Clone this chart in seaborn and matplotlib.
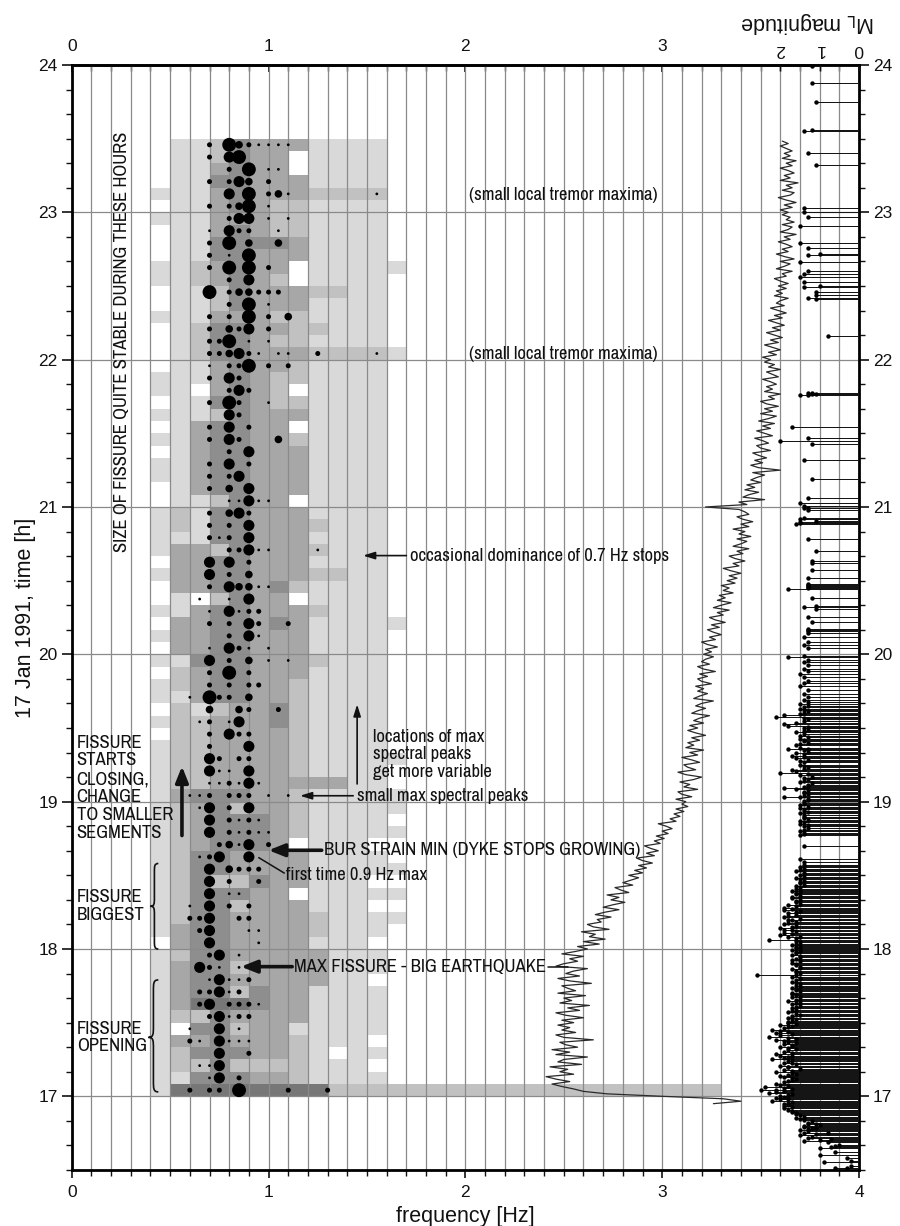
import numpy as np
import matplotlib
matplotlib.use("Agg")
import matplotlib.pyplot as plt
import seaborn as sns
from matplotlib import font_manager
from matplotlib.colors import ListedColormap, BoundaryNorm
from matplotlib.path import Path
from matplotlib.patches import PathPatch

# ---------------------------------------------------------------------------
# Spectral shading: one row per 5-minute window (23:30 down to 17:00),
# one character per 0.1 Hz bin starting at 0.4 Hz; 0 = empty, 5 = darkest.
# ---------------------------------------------------------------------------
shade_first_hz = 0.4
shade_bin_hz = 0.1
window_top_h = 23.5
window_step_h = 1 / 12
shade_rows = [
    "0112433311110", "0112433011110", "0113433011110", "0114433311110",
    "1113433322220", "0113432211110", "1113332211110", "0113432211110",
    "0114444311110", "0114433311110", "1123433011111", "1123432011110",
    "0112433322110", "0112433311110", "1113332211110", "0124433221110",
    "0124432211110", "0124433322221", "0113433211110", "1113432211110",
    "1103432011110", "0114432211110", "1112433311110", "0134433011110",
    "1134433211110", "0134433311110", "1134433311110", "1134433311110",
    "0134433311110", "0112433011110", "1214433311110", "1214433321110",
    "1114433311110", "1332433321110", "0334433311110", "1334433322110",
    "0334434211110", "0102433011110", "1134433321110", "0334434311111",
    "1334433311110", "0334433311110", "1144433321110", "0234433311110",
    "1234433211110", "1134433211110", "0212334211110", "1223334211110",
    "0223333211110", "1223333211110", "1223333211111", "1223333211110",
    "1223333333110", "1344433211111", "1234233211111", "1234443211110",
    "1234443211111", "1234443011100", "1244333311110", "1244333311111",
    "1242243311100", "1244433011111", "1244233311100", "1244333321111",
    "1344333321110", "0344333311100", "1244333331110", "1344233331110",
    "1344333331100", "1344243311110", "1355543311110", "1224333311110",
    "1044233111110", "1334333211100", "1244433210110", "1224222211100",
    "1144433211110", "1555555552222",
]
# the first window after 17:00 stays shaded out to 3.3 Hz
onset_tail_end_hz = 3.3
onset_tail_level = 2

# Maximum spectral peaks per 5-minute window: "freq(1/100 Hz):size class"
peak_rows = [
    "70:2 80:5 85:3 90:2 95:1 100:1 105:1 110:1",
    "70:2 80:4 85:5",
    "80:2 90:5 100:1 105:1",
    "70:2 80:2 85:4 90:3 100:2",
    "80:4 90:5 100:2 105:3 110:1 155:1",
    "70:2 80:2 85:3 90:5 100:1",
    "80:2 85:4 90:4 100:1 110:1",
    "70:1 80:4 85:2 90:2 105:1",
    "70:2 80:5 90:3 105:3",
    "70:2 80:1 90:5",
    "70:2 80:5 90:5 100:2",
    "80:2 90:4",
    "70:5 80:2 85:3 90:3 95:2 100:2 105:2",
    "80:2 90:5 100:1",
    "70:2 80:2 90:5 100:2 110:3",
    "70:2 80:3 85:2 90:4 100:2",
    "70:2 75:2 80:5 90:1 100:1",
    "70:2 75:2 80:3 85:4 90:2 95:1 105:1 110:1 125:2 155:1",
    "70:1 80:2 85:2 90:5 100:2 110:2",
    "70:2 80:4 85:2",
    "80:2 85:4 90:2",
    "70:2 80:5 85:2 100:1",
    "80:4 85:2",
    "70:2 80:4 90:2",
    "70:2 80:4 85:2 105:3",
    "80:2 90:4",
    "70:2 80:4 90:2",
    "70:2 80:2 85:4",
    "70:2 80:3 90:4",
    "80:1 85:1 90:4 95:1 100:1",
    "70:2 80:3 85:4 90:2",
    "70:2 80:2 90:4",
    "70:2 75:1 80:2 90:4",
    "80:2 85:2 90:4 95:1 100:1 125:1",
    "70:4 80:4 90:2",
    "70:4 80:2 90:3",
    "70:2 80:4 85:3 90:3 95:1 100:1",
    "65:1 80:1 90:4",
    "70:1 80:4 85:1 90:2 95:2",
    "70:2 80:2 90:4 95:2 110:2",
    "80:2 90:4 95:1",
    "70:1 80:4 85:2 90:1 100:1",
    "70:4 80:2 90:3 100:1 110:1",
    "70:2 80:5 90:2",
    "70:2 80:2 90:2 95:2",
    "60:1 70:5 75:2 80:2 90:3",
    "70:3 85:3 90:2 105:2",
    "65:1 70:2 80:1 85:4",
    "70:2 80:4 85:2 90:2",
    "70:2 90:4",
    "70:4 75:2 85:2 90:2",
    "70:4 75:1 80:1 90:4",
    "70:1 75:1 80:2 85:1 90:4 95:1",
    "60:1 65:1 70:2 80:2 85:2 90:2 100:1 110:1",
    "65:1 70:4 80:2 90:4",
    "70:4 80:2 85:1 90:2 95:1",
    "70:4 80:2 85:1 90:2 95:1 100:1",
    "75:2 80:3 85:1 90:4 100:2",
    "65:1 70:2 75:4 90:4",
    "70:4 80:3 85:2 90:2 95:2",
    "70:4 80:2 95:2",
    "70:4 80:1 85:1",
    "60:1 70:4 80:2 90:2",
    "60:2 65:2 70:4 85:2 90:2",
    "65:2 70:4 90:1 95:1",
    "70:4 95:1",
    "70:2 75:4 85:1",
    "65:4 70:2 75:1 85:1",
    "70:1 75:4 80:1 85:1 90:2",
    "65:2 70:2 75:4 80:1 85:2",
    "65:2 70:4 80:2 85:2 90:2 95:1",
    "70:2 75:4 80:1 85:2 90:2",
    "60:1 75:4 85:1",
    "60:2 65:1 75:4 80:1 85:1 90:1",
    "75:4 90:2",
    "65:1 70:1 75:4",
    "70:1 75:4 85:2",
    "60:2 70:2 75:2 85:5 110:2 130:2",
]
peak_marker_area = {1: 4, 2: 13, 3: 30, 4: 64, 5: 100}

# Tremor amplitude trace, 1-minute samples from 16:57 (values in 1/100 Hz units)
tremor_start_h = 16.95
tremor_step_h = 1 / 60
tremor_blocks = [
    "326 340 331 300 272 260 255",
    "249 244 253 246 241 255 248 252 243 259 247 250 262 246 253 244 257 251 248 265 250 246 256 249 253 247",
    "255 249 260 251 246 258 252 263 248 254 250 261 247 256 252 249 264 253 247 258 251 255 262 246 250 257 253 260 249 256",
    "262 257 268 260 271 263 266 259 273 265 262 269 267 274 266 271 278 270 275 281 274 278 272 283 279 276 285 280 284 288",
    "283 290 286 292 288 295 290 287 296 292 298 294 291 299 296 301 297 303 300 305 302 298 307 304 309 306 311 307 313 310",
    "312 307 315 310 308 318 311 314 309 316 320 312 308 317 313 311 319 315 310 318 314 321 312 316 313 319 315 322 317 313",
    "318 314 321 316 319 324 315 318 322 317 320 326 316 319 323 318 321 317 325 320 318 323 319 327 321 318 324 320 322 326",
    "321 325 322 328 323 320 327 324 330 326 323 329 325 332 327 324 331 328 334 326 330 335 328 332 329 336 331 334 330 337",
    "333 338 334 340 335 331 339 336 342 337 334 341 338 344 336 340 343 338 345 339 342 336 344 340 346 341 338 344 342 339",
    "322 343 339 352 341 344 349 342 347 343 350 345 348 352 346 360 349 345 351 347 353 349 346 355 350 348 354 351 347 356",
    "352 348 355 351 357 349 354 358 350 356 352 359 353 350 357 354 360 352 356 353 358 355 351 359 356 353 360 354 357 352",
    "355 351 358 354 360 356 352 359 355 361 357 353 360 356 362 358 354 361 357 363 359 355 362 358 360 364 357 361 358 363",
    "359 364 360 357 363 361 366 358 362 365 360 367 362 358 364 361 366 363 359 365 362 368 360 364 366 361 367 363 365 361",
    "364 360 366 362 368 363 359 365 367 361 366 363 369 360 365 362 367 364 360 366 363 368 361 365 362 366 363 360 364 361",
]

# Earthquakes: "minute:ML x10" per hour
quakes_by_hour = {
    16: "30.6:6 30.9:3 31.8:2 33.4:9 33.8:2 34.8:3 36.0:10 37.5:6 39.0:10 39.3:7 "
        "39.6:6 40.2:5 41.2:8 42.0:14 42.4:10 42.8:7 43.2:13 43.6:12 44.4:15 44.8:11 "
        "45.0:14 45.2:8 45.7:13 46.2:15 46.6:13 46.9:12 47.0:11 47.5:14 48.0:14 "
        "48.4:10 48.6:13 48.8:11 49.3:13 49.8:12 50.3:14 50.7:15 51.0:16 51.6:14 "
        "52.2:15 52.6:16 53.0:16 53.8:17 54.2:17 54.6:18 55.2:19 55.8:17 56.0:19 "
        "56.4:18 57.0:19 57.3:18 57.6:17 58.2:22 58.7:18 59.1:20 59.4:21 59.8:19",
    17: "0.2:20 0.55:18 0.9:17 1.3:23 1.7:21 2.0:19 2.4:25 2.6:21 3.1:17 3.5:19 "
        "3.9:24 4.4:18 4.8:20 5.2:21 5.8:19 6.2:18 6.5:17 7.1:16 7.5:17 7.9:19 "
        "8.3:20 8.6:18 9.2:16 9.6:17 9.9:21 10.5:17 10.8:19 11.0:15 11.8:18 12.1:18 "
        "12.4:20 13.1:16 13.4:17 13.7:19 14.2:18 14.6:17 15.2:22 15.6:19 16.0:18 "
        "16.3:20 16.6:17 17.3:21 17.7:17 18.0:19 18.7:18 19.2:16 19.6:18 20.0:20 "
        "20.4:17 20.8:17 21.4:19 21.8:16 22.1:18 22.5:19 22.9:21 23.5:16 23.9:18 "
        "24.2:23 24.9:20 25.3:17 25.6:21 26.3:18 26.7:20 27.0:22 27.8:19 28.1:18 "
        "28.5:17 29.1:20 29.5:16 29.8:18 30.2:18 30.6:17 31.4:16 31.8:17 32.0:18 "
        "32.8:17 33.2:15 33.5:16 34.3:18 34.7:17 35.0:16 35.9:17 36.2:16 36.6:15 "
        "37.4:17 37.8:15 38.1:16 38.9:18 39.3:16 39.6:15 40.4:17 40.8:15 41.2:16 "
        "41.6:17 42.0:17 42.7:15 43.1:16 43.5:16 44.3:17 44.7:15 45.0:16 45.8:15 "
        "46.2:16 46.5:17 47.3:16 47.7:15 48.1:15 48.6:17 49.2:26 49.6:16 50.4:15 "
        "50.8:16 51.2:16 52.0:17 52.4:15 52.8:15 53.6:16 54.0:16 54.4:17 55.2:15 "
        "55.6:17 56.0:16 56.8:15 57.1:15 57.5:17 58.3:16 58.7:16 59.1:15 59.6:17",
    18: "0.0:15 0.35:16 0.7:16 1.4:15 1.8:17 2.1:16 2.8:15 3.2:16 3.6:23 4.3:16 "
        "4.7:18 5.0:15 5.8:20 6.1:17 6.5:19 7.2:16 7.6:19 7.9:17 8.6:20 9.0:17 "
        "9.4:16 10.1:19 10.5:18 10.8:16 11.6:18 11.9:17 12.3:15 13.1:19 13.5:18 "
        "13.8:16 14.6:18 14.9:16 15.3:15 16.0:19 16.4:17 16.8:19 17.5:16 17.9:18 "
        "18.3:15 19.0:16 19.4:16 19.8:15 20.6:17 21.0:17 21.4:15 22.2:16 22.6:16 "
        "23.0:15 23.8:17 24.2:15 24.6:16 25.4:15 25.8:16 26.2:14 27.0:15 27.4:15 "
        "27.8:14 28.6:15 29.0:16 29.4:14 30.2:15 30.6:14 31.0:14 31.8:16 32.2:15 "
        "32.6:14 33.4:15 33.8:14 34.4:14 35.6:14 36.5:15 42.0:14 46.6:15 47.0:14 "
        "47.4:14 48.2:15 48.6:14 49.1:13 50.0:14 50.4:13 50.8:15 51.7:14 52.1:15 "
        "52.6:13 53.5:14 53.9:14 54.4:14 55.3:15 55.7:13 56.2:14 57.0:14 57.4:15 "
        "57.9:13 58.8:15 59.2:14 59.6:14",
    19: "0.3:14 0.7:13 1.0:13 1.7:19 2.0:15 2.4:14 3.1:13 3.5:14 3.9:14 4.6:13 "
        "5.0:16 5.4:19 6.1:14 6.5:13 6.9:13 7.7:12 8.1:15 8.5:14 9.3:13 9.7:14 "
        "10.1:12 11.0:15 11.4:13 11.8:20 12.6:16 13.0:17 13.4:14 14.2:13 14.6:14 "
        "15.1:15 16.0:14 16.4:15 16.8:13 17.6:16 18.0:14 18.4:17 19.3:14 19.7:16 "
        "20.2:13 21.1:14 21.4:13 21.6:18 22.0:15 22.9:16 23.3:15 23.8:13 24.7:14 "
        "25.1:14 25.6:15 26.5:13 26.9:15 27.4:14 28.3:16 28.7:14 29.2:13 30.1:14 "
        "30.6:13 31.0:18 31.8:19 32.2:16 32.7:14 33.6:13 34.0:14 34.5:21 35.1:19 "
        "35.5:15 35.9:14 36.8:13 37.2:14 37.7:15 38.6:14 39.0:13 39.6:15 40.4:13 "
        "41.5:14 42.6:13 44.0:14 45.5:13 47.0:15 48.2:14 49.3:13 50.6:14 51.8:15 "
        "53.0:13 54.2:14 55.5:13 56.8:14 57.8:13 58.8:18 59.5:14",
    20: "2.4:13 3.6:14 5.0:13 7.2:14 8.6:13 9.4:13 9.8:13 10.3:13 13.2:12 15.0:13 "
        "18.6:11 19.4:14 19.8:11 23.0:12 26.4:18 27.0:13 27.4:13 27.9:13 28.3:13 "
        "28.8:13 31.2:13 34.5:12 37.2:12 37.8:12 42.0:11 46.8:13 53.0:16 53.5:15 "
        "54.0:15 54.4:11 54.9:15 55.4:14 58.9:13 59.4:13 59.7:14",
    21: "0.3:14 1.8:15 3.6:13 11.4:12 19.2:14 25.8:12 27.0:20 28.2:13 32.4:17 "
        "45.4:15 45.7:13 45.9:12 46.1:11 46.3:13 46.5:12",
    22: "9.6:8 24.6:11 25.2:13 26.4:11 27.6:11 29.4:14 29.8:10 31.8:14 33.6:15 "
        "34.8:14 36.0:13 39.6:15 42.6:13 43.0:10 45.6:13 47.4:15 54.6:15 58.2:13",
    23: "0.2:14 1.8:14 19.2:11 24.0:13 33.0:14 33.4:12 45.0:11 52.8:12 59.6:12",
}

# magnitude axis: 1 ML unit spans 0.2 Hz of the frequency scale, 0 at the right edge
ml_axis_span = 20.0

# ---------------------------------------------------------------------------
sns.set_theme(style="white")
plt.rcParams["font.family"] = ["Liberation Sans", "DejaVu Sans"]
available = {f.name for f in font_manager.fontManager.ttflist}
narrow_choices = ["Archivo Narrow", "Liberation Sans Narrow", "IBM Plex Sans Condensed",
                  "Fira Sans Condensed", "Liberation Sans"]
NOTE_FONT = [next(n for n in narrow_choices if n in available or n == "Liberation Sans"),
             "DejaVu Sans"]
INK = "#111111"
GRID = "#8a8a8a"

fig = plt.figure(figsize=(9, 12.26), dpi=100)
fig.patch.set_facecolor("white")
ax = fig.add_axes([0.0797, 0.0457, 0.8748, 0.9013])
ax.set_facecolor("white")
ax.set_xlim(0, 4)
ax.set_ylim(16.5, 24)

# size the note font so the longest caption spans 1.28 -> 2.89 Hz
renderer = fig.canvas.get_renderer()
probe = fig.text(0, 0, "BUR STRAIN MIN (DYKE STOPS GROWING)", fontfamily=NOTE_FONT,
                 fontsize=10)
probe_w = probe.get_window_extent(renderer).width
probe.remove()
target_w = (2.89 - 1.28) / 4 * ax.get_window_extent(renderer).width
NOTE_SIZE = 10 * target_w / probe_w

# --- shaded spectral bins --------------------------------------------------
nrows = len(shade_rows)
ncols = int(round((onset_tail_end_hz - shade_first_hz) / shade_bin_hz))
levels = np.zeros((nrows, ncols))
for r, row in enumerate(shade_rows):
    levels[r, :len(row)] = [int(c) for c in row]
levels[-1, len(shade_rows[-1]):] = onset_tail_level
x_edges = shade_first_hz + shade_bin_hz * np.arange(ncols + 1)
y_edges = window_top_h - window_step_h * np.arange(nrows + 1)
grays = ListedColormap(["#d9d9d9", "#c1c1c1", "#a7a7a7", "#8e8e8e", "#777777"])
norm = BoundaryNorm([0.5, 1.5, 2.5, 3.5, 4.5, 5.5], grays.N)
ax.pcolormesh(x_edges, y_edges[::-1], np.ma.masked_equal(levels[::-1], 0),
              cmap=grays, norm=norm, shading="flat", zorder=1)

# --- grid ---------------------------------------------------------------------
ax.set_xticks(np.arange(0, 4.01, 1))
ax.set_xticks(np.round(np.arange(0, 4.001, 0.1), 1), minor=True)
ax.set_yticks(np.arange(17, 25))
ax.set_yticks(np.arange(16.5, 24.001, 1 / 6), minor=True)
ax.xaxis.grid(True, which="both", color=GRID, lw=0.9)
ax.yaxis.grid(True, which="major", color=GRID, lw=0.9)
ax.yaxis.grid(False, which="minor")
ax.set_axisbelow("line")

# --- spectral peak dots -----------------------------------------------------------
pk_t, pk_f, pk_s = [], [], []
for r, row in enumerate(peak_rows):
    for tok in row.split():
        f, s = tok.split(":")
        pk_t.append(window_top_h - (r + 0.5) * window_step_h)
        pk_f.append(int(f) / 100)
        pk_s.append(int(s))
sns.scatterplot(x=pk_f, y=pk_t, size=pk_s, sizes=peak_marker_area, color="black",
                linewidth=0, legend=False, ax=ax, zorder=4)

# --- tremor trace -------------------------------------------------------------
tremor_v = np.array([int(v) for blk in tremor_blocks for v in blk.split()]) / 100
tremor_t = tremor_start_h + tremor_step_h * np.arange(len(tremor_v))
sns.lineplot(x=tremor_v, y=tremor_t, sort=False, estimator=None, orient="y",
             color="#2a2a2a", lw=0.9, ax=ax, zorder=4)

# --- earthquake magnitudes (own top scale) ----------------------------------------
ax_m = ax.twiny()
ax_m.set_xlim(ml_axis_span, 0)
ax_m.set_ylim(16.5, 24)
eq_t, eq_m = [], []
for hour, seq in quakes_by_hour.items():
    for tok in seq.split():
        mnt, mag = tok.split(":")
        eq_t.append(hour + float(mnt) / 60)
        eq_m.append(int(mag) / 10)
ax_m.hlines(eq_t, 0, eq_m, color="#151515", lw=0.72, zorder=2)
sns.scatterplot(x=eq_m, y=eq_t, s=10, color="black", linewidth=0, ax=ax_m,
                legend=False, zorder=3)
for sp in ax_m.spines.values():
    sp.set_visible(False)
ax_m.set_xticks([0, 1, 2])
ax_m.set_xticklabels(["0", "1", "2"], rotation=180)
ax_m.tick_params(axis="x", which="major", direction="in", length=4, width=1,
                 labelsize=12.5, pad=6, colors=INK)
fig.text(0.898, 1 - 23 / 1226, r"M$_\mathsf{L}$ magnitude", rotation=180,
         ha="center", va="center", fontsize=15.5, color=INK)

# --- axes, ticks and labels ----------------------------------------------------------
for sp in ax.spines.values():
    sp.set_visible(True)
    sp.set_linewidth(2)
    sp.set_color("black")
ax.tick_params(axis="x", which="major", direction="out", length=6, width=1.2,
               labelsize=12.5, bottom=True, top=False, colors=INK, pad=5)
ax.tick_params(axis="x", which="minor", direction="out", length=4, width=1,
               bottom=True, top=False, colors=INK)
ax.tick_params(axis="y", which="major", direction="out", length=7, width=1.2,
               labelsize=12.5, left=True, right=True, labelleft=True,
               labelright=True, colors=INK, pad=3)
ax.tick_params(axis="y", which="minor", direction="out", length=4, width=1,
               left=True, right=True, colors=INK)
ax.set_xticklabels(["0", "1", "2", "3", "4"])
ax.set_yticklabels([str(v) for v in range(17, 25)])

top = ax.secondary_xaxis("top")
top.set_xticks([0, 1, 2, 3])
top.set_xticks(np.round(np.arange(0, 4.001, 0.1), 1), minor=True)
top.set_xticklabels(["0", "1", "2", "3"])
top.tick_params(axis="x", which="major", direction="in", length=5, width=1.2,
                labelsize=12.5, pad=8, colors=INK)
top.tick_params(axis="x", which="minor", direction="in", length=4, width=1,
                colors=INK)
top.spines["top"].set_linewidth(2)

ax.set_xlabel("frequency [Hz]", fontsize=15.5, color=INK, labelpad=4)
ax.set_ylabel("17 Jan 1991, time [h]", fontsize=15.5, color=INK, labelpad=2)


# --- annotations ------------------------------------------------------------------
def note(x, y, s, **kw):
    ax.text(x, y, s, fontfamily=NOTE_FONT, fontsize=NOTE_SIZE, color=INK,
            va="center", ha="left", zorder=6, **kw)


def arrow(tail, tip, thick=False):
    if thick:
        style = "-|>,head_length=0.95,head_width=0.38"
        lw = 2.6
    else:
        style = "-|>,head_length=0.7,head_width=0.22"
        lw = 1.2
    ax.annotate("", xy=tip, xytext=tail, zorder=6,
                arrowprops=dict(arrowstyle=style, lw=lw, color=INK,
                                shrinkA=0, shrinkB=0, mutation_scale=10))


def brace(x_cusp, x_ends, t_low, t_high, t_mid):
    xm = 0.5 * (x_cusp + x_ends)
    h = t_high - t_low
    verts = [
        (x_ends, t_high), (xm, t_high), (xm, t_high - 0.03 * h), (xm, t_high - 0.1 * h),
        (xm, t_mid + 0.1 * h),
        (xm, t_mid + 0.03 * h), (xm, t_mid), (x_cusp, t_mid),
        (xm, t_mid), (xm, t_mid - 0.03 * h), (xm, t_mid - 0.1 * h),
        (xm, t_low + 0.1 * h),
        (xm, t_low + 0.03 * h), (xm, t_low), (x_ends, t_low),
    ]
    codes = [Path.MOVETO, Path.CURVE4, Path.CURVE4, Path.CURVE4, Path.LINETO,
             Path.CURVE4, Path.CURVE4, Path.CURVE4, Path.CURVE4, Path.CURVE4,
             Path.CURVE4, Path.LINETO, Path.CURVE4, Path.CURVE4, Path.CURVE4]
    ax.add_patch(PathPatch(Path(verts, codes), fill=False, lw=1.2, color=INK,
                           zorder=6))


ax.text(0.255, 22.12, "SIZE OF FISSURE QUITE STABLE DURING THESE HOURS",
        rotation=90, ha="center", va="center", fontfamily=NOTE_FONT,
        fontsize=NOTE_SIZE, color=INK, zorder=6)
note(2.02, 23.12, "(small local tremor maxima)")
note(2.02, 22.04, "(small local tremor maxima)")

note(1.72, 20.67, "occasional dominance of 0.7 Hz stops")
arrow((1.70, 20.67), (1.48, 20.67))

for line, t in zip(["locations of max", "spectral peaks", "get more variable"],
                   [19.44, 19.32, 19.20]):
    note(1.53, t, line)
arrow((1.45, 19.12), (1.45, 19.66))

note(1.45, 19.04, "small max spectral peaks")
arrow((1.43, 19.04), (1.16, 19.04))

note(1.28, 18.67, "BUR STRAIN MIN (DYKE STOPS GROWING)")
arrow((1.27, 18.67), (1.00, 18.67), thick=True)

note(1.09, 18.50, "first time 0.9 Hz max")
ax.plot([0.95, 1.08], [18.62, 18.515], color=INK, lw=1.1, zorder=6)

note(1.13, 17.88, "MAX FISSURE - BIG EARTHQUAKE")
arrow((1.12, 17.88), (0.86, 17.88), thick=True)
ax.plot([2.42, 2.52], [17.88, 17.88], color=INK, lw=1.1, zorder=6)

for line, t in zip(["FISSURE", "STARTS", "CLOSING,", "CHANGE", "TO SMALLER", "SEGMENTS"],
                   [19.40, 19.28, 19.15, 19.03, 18.91, 18.79]):
    note(0.025, t, line)
arrow((0.56, 18.77), (0.56, 19.24), thick=True)

note(0.025, 18.35, "FISSURE")
note(0.025, 18.23, "BIGGEST")
brace(0.40, 0.44, 18.00, 18.58, 18.29)

note(0.025, 17.46, "FISSURE")
note(0.025, 17.34, "OPENING")
brace(0.39, 0.44, 17.03, 17.79, 17.40)

fig.savefig("out.png", dpi=100, facecolor="white")
